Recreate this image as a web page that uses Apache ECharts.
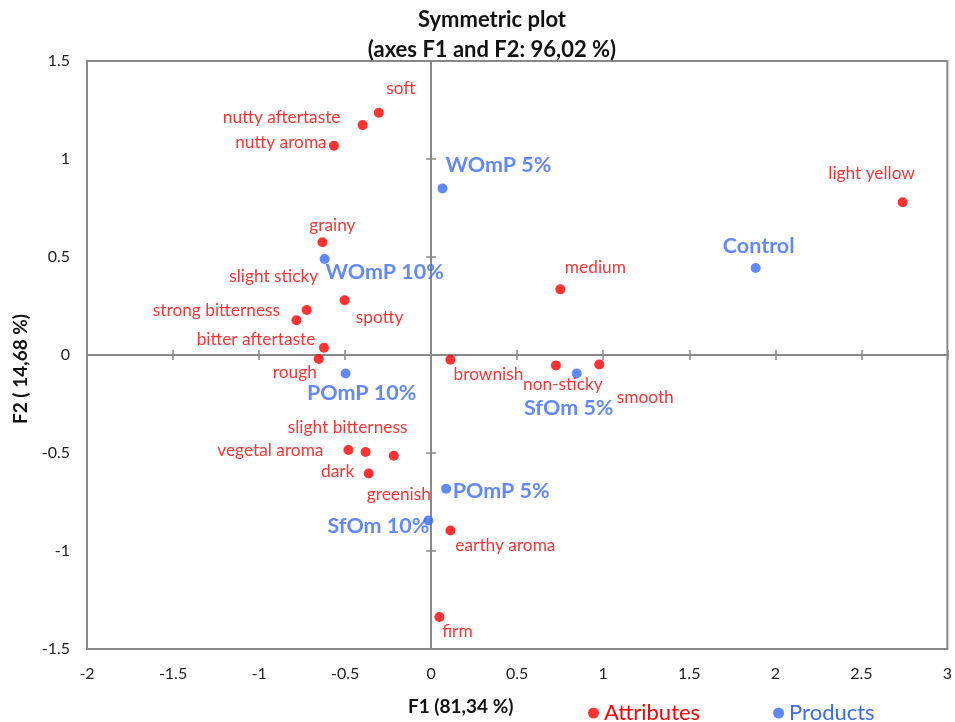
<!DOCTYPE html>
<html>
<head>
<meta charset="utf-8">
<script src="https://cdn.jsdelivr.net/npm/echarts@6/dist/echarts.min.js"></script>
<style>html,body{margin:0;padding:0;background:#fff;}#c{width:955px;height:722px;}</style>
</head>
<body>
<div id="c"></div>
<script>
// ---- data ----
const attrNames = ['soft','nutty aftertaste','nutty aroma','light yellow','grainy','medium','slight sticky','spotty','strong bitterness','bitter aftertaste','rough','brownish','non-sticky','smooth','slight bitterness','vegetal aroma','greenish','dark','earthy aroma','firm'];
const attrF1 = [-0.304,-0.398,-0.565,2.740,-0.632,0.751,-0.723,-0.503,-0.783,-0.623,-0.653,0.112,0.725,0.977,-0.381,-0.481,-0.217,-0.363,0.112,0.048];
const attrF2 = [1.236,1.173,1.068,0.779,0.575,0.335,0.230,0.279,0.177,0.037,-0.020,-0.024,-0.053,-0.048,-0.495,-0.485,-0.514,-0.605,-0.895,-1.337];
const prodNames = ['WOmP 5%','Control','WOmP 10%','POmP 10%','SfOm 5%','POmP 5%','SfOm 10%'];
const prodF1 = [0.066,1.886,-0.619,-0.497,0.846,0.087,-0.016];
const prodF2 = [0.850,0.444,0.490,-0.094,-0.094,-0.682,-0.844];
const xTicks = ['-2','-1.5','-1','-0.5','0','0.5','1','1.5','2','2.5','3'];
const yTicks = ['-1.5','-1','-0.5','0','0.5','1','1.5'];

// ---- label placement (layout, px offsets) ----
const attrLabelOffset = {
  'soft':[22,-24],'nutty aftertaste':[-81,-8],'nutty aroma':[-53,-3],'light yellow':[-31,-29],
  'grainy':[10,-17],'medium':[35,-22],'slight sticky':[-33,-33],'spotty':[35,17],
  'strong bitterness':[-80,-10],'bitter aftertaste':[-68,-8],'rough':[-24,14],'brownish':[38,15],
  'non-sticky':[7,19],'smooth':[46,33],'slight bitterness':[-18,-25],'vegetal aroma':[-78,0],
  'greenish':[5,39],'dark':[-31,-2],'earthy aroma':[55,15],'firm':[18,14]
};
const prodLabelOffset = {
  'WOmP 5%':[56,-23],'Control':[3,-22],'WOmP 10%':[60,13],'POmP 10%':[16,20],
  'SfOm 5%':[-8,35],'POmP 5%':[55,2],'SfOm 10%':[-50,6]
};

const RED = '#FF0000', BLUE = '#3B6CF5', GRAY = '#888888';
const FONT = 'Lato';
const xMin = Number(xTicks[0]), xMax = Number(xTicks[xTicks.length-1]);
const yMin = Number(yTicks[0]), yMax = Number(yTicks[yTicks.length-1]);

function makeAxes(dim) {
  const min = dim === 'x' ? xMin : yMin, max = dim === 'x' ? xMax : yMax;
  const base = {type:'value', min:min, max:max, interval:0.5, splitLine:{show:false}};
  const main = Object.assign({}, base, {
    position: dim === 'x' ? 'bottom' : 'left',
    axisLine:{show:false, onZero:false},
    axisTick:{show:false},
    axisLabel:{color:'#222', fontFamily:FONT, fontSize:16, margin:17},
    name: dim === 'x' ? 'F1 (81,34 %)' : 'F2 ( 14,68 %)',
    nameLocation:'middle',
    nameGap: dim === 'x' ? 48 : 56,
    nameTextStyle: dim === 'x'
      ? {fontFamily:FONT, fontWeight:'bold', fontSize:19, color:'#111', padding:[0,113,0,0]}
      : {fontFamily:FONT, fontWeight:'bold', fontSize:19, color:'#111', padding:[0,28,0,0]}
  });
  const mk = (inside) => Object.assign({}, base, {
    axisLine:{show:true, onZero:true, onZeroAxisIndex:0, lineStyle:{color:GRAY, width:2}},
    axisTick:{show:true, inside:inside, length:5, lineStyle:{color:GRAY, width:1.5}},
    axisLabel:{show:false}
  });
  return [main, mk(false), mk(true)];
}

const chart = echarts.init(document.getElementById('c'), null, {renderer:'canvas'});
chart.setOption({
  backgroundColor:'#fff',
  animation:false,
  title:{
    text:'Symmetric plot\n(axes F1 and F2: 96,02 %)',
    left:487, top:0, textAlign:'center',
    textStyle:{fontFamily:FONT, fontWeight:'bold', fontSize:22, lineHeight:30, color:'#111'}
  },
  grid:{left:87, top:61, right:6, bottom:73, show:true, borderColor:GRAY, borderWidth:2, backgroundColor:'transparent'},
  xAxis: makeAxes('x'),
  yAxis: makeAxes('y'),
  legend:{
    left:583, top:697, itemGap:73, itemWidth:11, itemHeight:11, icon:'circle',
    data:[
      {name:'Attributes', textStyle:{color:RED}},
      {name:'Products', textStyle:{color:BLUE}}
    ],
    textStyle:{fontFamily:FONT, fontSize:22}
  },
  series:[
    {
      name:'Attributes', type:'scatter', symbolSize:10, xAxisIndex:0, yAxisIndex:0,
      itemStyle:{color:RED},
      data: attrNames.map((n,i)=>({value:[attrF1[i], attrF2[i]], name:n,
        label:{show:true, position:'inside', offset:attrLabelOffset[n], formatter:n,
               color:RED, fontFamily:FONT, fontSize:17.3}})),
      z:5
    },
    {
      name:'Products', type:'scatter', symbolSize:10, xAxisIndex:0, yAxisIndex:0,
      itemStyle:{color:BLUE},
      data: prodNames.map((n,i)=>({value:[prodF1[i], prodF2[i]], name:n,
        label:{show:true, position:'inside', offset:prodLabelOffset[n], formatter:n,
               color:BLUE, fontFamily:FONT, fontWeight:'bold', fontSize:21.5}})),
      z:6
    }
  ]
});
</script>
</body>
</html>
